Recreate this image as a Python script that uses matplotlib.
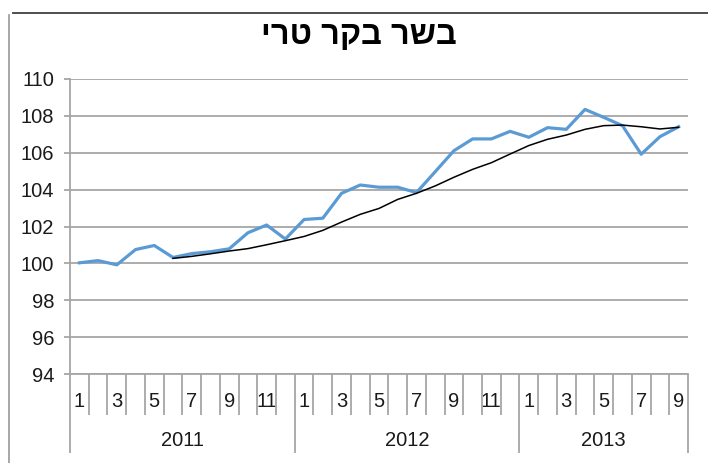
import matplotlib.pyplot as plt
from matplotlib.lines import Line2D

title = "בשר בקר טרי"
years = ["2011", "2012", "2013"]
months_per_year = [12, 12, 9]

# monthly index (blue) and the smoothed trend (black, starts June 2011)
index_values = [
    100.03, 100.15, 99.92, 100.75, 100.97, 100.32, 100.53, 100.63, 100.79, 101.66, 102.08, 101.32,
    102.38, 102.45, 103.80, 104.25, 104.13, 104.13, 103.84, 104.97, 106.11, 106.75, 106.75, 107.16,
    106.84, 107.36, 107.27, 108.35, 107.92, 107.47, 105.92, 106.87, 107.41,
]
trend_start = 5
trend_values = [
    100.27, 100.38, 100.52, 100.67, 100.80, 101.01, 101.23,
    101.46, 101.79, 102.24, 102.66, 102.98, 103.47, 103.80, 104.20, 104.67, 105.10, 105.46, 105.93,
    106.39, 106.73, 106.96, 107.27, 107.47, 107.50, 107.41, 107.29, 107.38,
]
y_ticks = list(range(94, 111, 2))

plt.rcParams['font.family'] = ['Liberation Sans', 'DejaVu Sans']

fig = plt.figure(figsize=(7.08, 4.63), dpi=100)
W, H = 708, 463
ax = fig.add_axes([70 / W, 1 - 374 / H, 618 / W, 295 / H])

n = len(index_values)
x = list(range(n))
ax.plot(x, index_values, color='#5b9bd5', lw=2.3, solid_joinstyle='round', zorder=3)
ax.plot(x[trend_start:], trend_values, color='black', lw=1.1, zorder=4)

ax.set_xlim(-0.5, n - 0.5)
ax.set_ylim(94, 110)

grid_col = '#a6a6a6'
for s in ['top', 'right']:
    ax.spines[s].set_visible(False)
for s in ['left', 'bottom']:
    ax.spines[s].set_color(grid_col)
    ax.spines[s].set_linewidth(1.3)

ax.set_yticks(y_ticks)
ax.yaxis.grid(True, color=grid_col, lw=1.3)
ax.set_axisbelow(True)
ax.tick_params(axis='y', length=4.5, width=1.3, color=grid_col, pad=7,
               labelsize=14.5, labelcolor='#1a1a1a')

# month labels on odd months
labels = []
for m in months_per_year:
    labels += [str(i) if i % 2 == 1 else '' for i in range(1, m + 1)]
ax.set_xticks(x, labels)
ax.tick_params(axis='x', which='major', length=0, pad=13, labelsize=14.5, labelcolor='#1a1a1a')

# boundaries between months, longer ones between years
year_edges = [-0.5]
for m in months_per_year:
    year_edges.append(year_edges[-1] + m)
month_edges = [i + 0.5 for i in range(n - 1) if i + 0.5 not in year_edges]
ax.set_xticks(month_edges, minor=True)
ax.tick_params(axis='x', which='minor', length=29.5, width=1.3, color=grid_col)

sec = ax.secondary_xaxis('bottom')
sec.spines['bottom'].set_visible(False)
sec.set_xticks(year_edges, [''] * len(year_edges))
sec.tick_params(axis='x', which='major', length=57, width=1.3, color=grid_col)
year_centers = [(year_edges[i] + year_edges[i + 1]) / 2 for i in range(len(years))]
sec.set_xticks(year_centers, years, minor=True)
sec.tick_params(axis='x', which='minor', length=0, pad=41, labelsize=14.5, labelcolor='#1a1a1a')

# Hebrew title: matplotlib has no bidi, so reverse for display
fig.text(359 / W, 1 - 36 / H, title[::-1], ha='center', va='center',
         fontsize=23.5, fontweight='bold', color='black')

# chart area border
fig.add_artist(Line2D([13 / W, 1], [1 - 13 / H] * 2, color='#404040', lw=1.3))
fig.add_artist(Line2D([9 / W] * 2, [0, 1 - 15 / H], color='#a0a0a0', lw=1.3))

fig.savefig('out.png', dpi=100)
